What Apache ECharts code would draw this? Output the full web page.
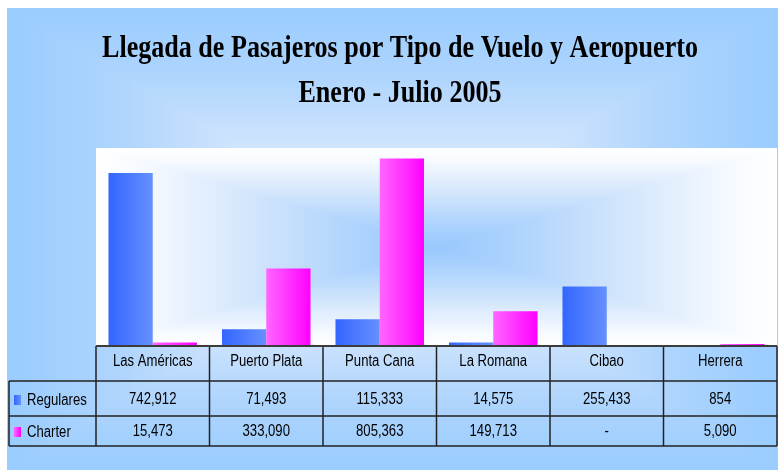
<!DOCTYPE html>
<html><head><meta charset="utf-8">
<script src="https://cdn.jsdelivr.net/npm/echarts@6/dist/echarts.min.js"></script>
<style>html,body{margin:0;padding:0;background:#fff}#c{width:778px;height:470px}</style>
</head><body><div id="c"></div>
<script>
const categories = ['Las Américas','Puerto Plata','Punta Cana','La Romana','Cibao','Herrera'];
const regulares = [742912, 71493, 115333, 14575, 255433, 854];
const charter = [15473, 333090, 805363, 149713, null, 5090];
const seriesNames = ['Regulares','Charter'];
const titleLines = ['Llegada de Pasajeros por Tipo de Vuelo y Aeropuerto','Enero - Julio 2005'];
const yMax = 850000;

function fmt(v){ return v == null ? '-' : String(v).replace(/\B(?=(\d{3})+(?!\d))/g, ','); }
function hgrad(c0, c1){ return {type:'linear',x:0,y:0,x2:1,y2:0,colorStops:[{offset:0,color:c0},{offset:1,color:c1}]}; }
const blueFill = hgrad('#3366ff','#6690ff');
const pinkFill = hgrad('#ff66ff','#ff00ff');

// rectangular "from centre" gradient: vertical symmetric base + left/right triangles
function rectGrad(x0,y0,x1,y1,stops,z){
  const cx=(x0+x1)/2, cy=(y0+y1)/2;
  const sym = stops.map(s=>({offset:s.offset/2,color:s.color}))
    .concat(stops.slice().reverse().map(s=>({offset:1-s.offset/2,color:s.color})));
  const g=(ax,ay,bx,by,cs)=>({type:'linear',global:true,x:ax,y:ay,x2:bx,y2:by,colorStops:cs});
  return [
    {type:'rect',z:z,silent:true,shape:{x:x0,y:y0,width:x1-x0,height:y1-y0},style:{fill:g(0,y0,0,y1,sym)}},
    {type:'polygon',z:z,silent:true,shape:{points:[[x0,y0],[x0,y1],[cx,cy]]},style:{fill:g(x0,0,cx,0,stops)}},
    {type:'polygon',z:z,silent:true,shape:{points:[[x1,y0],[x1,y1],[cx,cy]]},style:{fill:g(x1,0,cx,0,stops)}}
  ];
}

const chart = echarts.init(document.getElementById('c'), null, {renderer:'canvas'});
chart.setOption({
  animation:false,
  backgroundColor:'#ffffff',
  grid:{left:96,right:1,top:148,bottom:124},
  xAxis:{type:'category',data:categories,axisLine:{show:false},axisTick:{show:false},axisLabel:{show:false}},
  yAxis:{type:'value',min:0,max:yMax,show:false,splitLine:{show:false}},
  series:[
    {name:seriesNames[0],type:'bar',data:regulares,itemStyle:{color:blueFill},barGap:'0%',barCategoryGap:'22%'},
    {name:seriesNames[1],type:'bar',data:charter,itemStyle:{color:pinkFill},barGap:'0%',barCategoryGap:'22%',barMinHeight:2}
  ]
});

const centers = categories.map(c => chart.convertToPixel({xAxisIndex:0}, c));
const band = centers[1]-centers[0];
const bounds = centers.map(c => c - band/2).concat([centers[centers.length-1] + band/2]);
const yBase = chart.convertToPixel({yAxisIndex:0}, 0);
const yTop = chart.convertToPixel({yAxisIndex:0}, yMax);
const xL = bounds[0], xR = bounds[bounds.length-1];
const rowH = [35, 35, 30];
const r1 = yBase + rowH[0], r2 = r1 + rowH[1], r3 = r2 + rowH[2];
const tableLeft = 9;

const els = [];
els.push(...rectGrad(7, 8, 778, 470, [
  {offset:0,color:'#99ccff'},{offset:0.3,color:'#afd5fd'},{offset:0.65,color:'#d6e7fc'},{offset:1,color:'#eef5fe'}], -20));
els.push(...rectGrad(xL, yTop, xR, yBase, [
  {offset:0,color:'#ffffff'},{offset:0.15,color:'#f5f9ff'},{offset:0.45,color:'#d3e6fc'},{offset:0.75,color:'#b0d4fd'},{offset:1,color:'#98c8fd'}], -10));

const titleFont = 'bold 32px "Liberation Serif", "Times New Roman", serif';
const titleY = [48.5, 93.5];
titleLines.forEach((t,i) => els.push({type:'text',z:10,silent:true,x:400,y:titleY[i],scaleX:0.815,
  style:{text:t,font:titleFont,fill:'#000',align:'center',verticalAlign:'middle'}}));

const lc = '#222222';
function line(x1,y1,x2,y2,w,c){ els.push({type:'line',z:10,silent:true,shape:{x1,y1,x2,y2},style:{stroke:c||lc,lineWidth:w||1.5}}); }
bounds.forEach(b => line(b, yBase, b, r3));
line(tableLeft, r1, tableLeft, r3);
line(tableLeft, r1, xR, r1);
line(tableLeft, r2, xR, r2);
line(tableLeft, r3, xR, r3);
line(xL, yBase, xR, yBase, 2.2, '#3c3c3c');

const tFont = '16px "Liberation Sans", Arial, sans-serif';
function txt(s,x,y,align){ els.push({type:'text',z:11,silent:true,x:x,y:y,scaleX:0.82,
  style:{text:s,font:tFont,fill:'#000',align:align||'center',verticalAlign:'middle'}}); }
const hdrY = yBase + 15.5, rowY = [r1 + 18.5, r2 + 15.5];
categories.forEach((c,i) => txt(c, centers[i], hdrY));
[regulares, charter].forEach((arr,k) => arr.forEach((v,i) => txt(fmt(v), centers[i], rowY[k])));
const fills = [blueFill, pinkFill];
seriesNames.forEach((n,k) => {
  txt(n, 27, rowY[k] + 1, 'left');
  els.push({type:'rect',z:11,silent:true,shape:{x:14,y:rowY[k]-4.5,width:7,height:10},style:{fill:fills[k]}});
});

chart.setOption({graphic:{elements:els}});
</script></body></html>
